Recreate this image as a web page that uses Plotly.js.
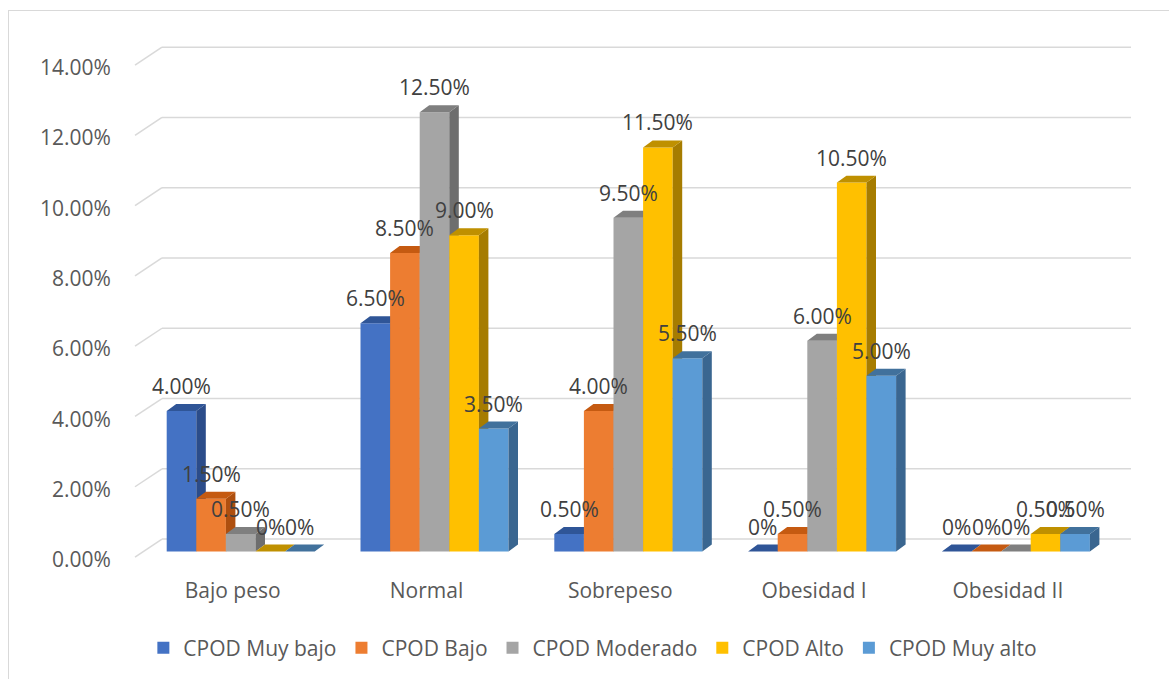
<!DOCTYPE html>
<html lang="es">
<head>
<meta charset="utf-8">
<script src="https://cdn.plot.ly/plotly-3.0.1.min.js"></script>
<style>
  html, body { margin: 0; padding: 0; background: #ffffff; }
  #wrap { position: relative; width: 1169px; height: 679px; overflow: hidden; }
  #chart { position: absolute; left: 0; top: 0; width: 1169px; height: 679px; }
  #frame { position: absolute; left: 8px; top: 10px; width: 1200px; height: 700px;
           border-left: 1px solid #d9d9d9; border-top: 1px solid #d9d9d9; pointer-events: none; }
</style>
</head>
<body>
<div id="wrap">
  <div id="chart"></div>
  <div id="frame"></div>
</div>
<script>
// Categorías (IMC) y series (CPOD)
const categories = ['Bajo peso', 'Normal', 'Sobrepeso', 'Obesidad I', 'Obesidad II'];
const seriesNames = ['CPOD Muy bajo', 'CPOD Bajo', 'CPOD Moderado', 'CPOD Alto', 'CPOD Muy alto'];

// Porcentajes por categoría
const cpodMuyBajo  = [0.040, 0.065, 0.005, 0.000, 0.000];
const cpodBajo     = [0.015, 0.085, 0.040, 0.005, 0.000];
const cpodModerado = [0.005, 0.125, 0.095, 0.060, 0.000];
const cpodAlto     = [0.000, 0.090, 0.115, 0.105, 0.005];
const cpodMuyAlto  = [0.000, 0.035, 0.055, 0.050, 0.005];

const yTickValues = [0, 0.02, 0.04, 0.06, 0.08, 0.10, 0.12, 0.14];

const seriesValues = [cpodMuyBajo, cpodBajo, cpodModerado, cpodAlto, cpodMuyAlto];

// Colores: cara frontal, cara superior, cara lateral
const frontColors = ['#4472C4', '#ED7D31', '#A5A5A5', '#FFC000', '#5B9BD5'];
const topColors   = ['#2F5597', '#C55A11', '#7F7F7F', '#BF9000', '#41719C'];
const sideColors  = ['#2B4C8A', '#AE4F0F', '#6E6E6E', '#A67C00', '#3A6690'];

const FONT = '"Open Sans", "Noto Sans", sans-serif';
const FONT_SIZE = 21;

// Geometría del gráfico (píxeles) -> rangos de ejes
const box = { l: 125, r: 1145, t: 35, b: 570, W: 1169, H: 679 };
const pxX0 = 240.7, pxPerCat = 193.8;      // centro de la categoría 0, ancho de categoría
const pxY0 = 552.5, pxPerUnit = 3520;      // línea base de las barras, px por unidad
const xRange = [(box.l - pxX0) / pxPerCat, (box.r - pxX0) / pxPerCat];
const yRange = [(pxY0 - box.b) / pxPerUnit, (pxY0 - box.t) / pxPerUnit];

// Profundidad 3D en unidades de datos
const BAR_W = 29.6 / pxPerCat;
const BAR_DX = 9.5 / pxPerCat;
const BAR_DY = 7 / pxPerUnit;
const BACK_DY = 12.5 / pxPerUnit;
const FRONT_DY = -5.5 / pxPerUnit;
const WALL_FRONT_X = (135 - pxX0) / pxPerCat;
const WALL_BACK_X = (162 - pxX0) / pxPerCat;
const WALL_RIGHT_X = (1131 - pxX0) / pxPerCat;

const xIdx = categories.map((_, i) => i);
const nSeries = seriesValues.length;
const offsetOf = j => (j - nSeries / 2) * BAR_W;

const traces = [];
const annotations = [];

seriesValues.forEach((vals, j) => {
  // caras frontales
  traces.push({
    type: 'bar', name: seriesNames[j], x: xIdx, y: vals,
    width: BAR_W, offset: offsetOf(j),
    marker: { color: frontColors[j], line: { width: 0 } },
    zorder: j, hoverinfo: 'skip'
  });
  // caras superior y lateral
  const tx = [], ty = [], sx = [], sy = [];
  vals.forEach((v, i) => {
    const x0 = i + offsetOf(j), x1 = x0 + BAR_W;
    tx.push(x0, x0 + BAR_DX, x1 + BAR_DX, x1, x0, null);
    ty.push(v, v + BAR_DY, v + BAR_DY, v, v, null);
    sx.push(x1, x1 + BAR_DX, x1 + BAR_DX, x1, x1, null);
    sy.push(0, BAR_DY, v + BAR_DY, v, 0, null);
    annotations.push({
      x: i + offsetOf(j) + BAR_W / 2, y: v, xref: 'x', yref: 'y',
      text: v === 0 ? '0%' : (v * 100).toFixed(2) + '%',
      showarrow: false, xanchor: 'center', yanchor: 'middle', yshift: 25,
      font: { family: FONT, size: FONT_SIZE, color: '#404040' }
    });
  });
  traces.push({
    type: 'scatter', mode: 'none', x: sx, y: sy, fill: 'toself',
    fillcolor: sideColors[j], showlegend: false, hoverinfo: 'skip', zorder: j
  });
  traces.push({
    type: 'scatter', mode: 'none', x: tx, y: ty, fill: 'toself',
    fillcolor: topColors[j], showlegend: false, hoverinfo: 'skip', zorder: j
  });
});

// Etiquetas del eje vertical, alineadas con el borde frontal de la pared izquierda
const tickFont = { family: FONT, size: FONT_SIZE, color: '#595959' };
yTickValues.forEach(v => {
  annotations.push({
    x: (113 - box.l) / (box.r - box.l), xref: 'paper', y: v, yref: 'y',
    text: (v * 100).toFixed(2) + '%', showarrow: false,
    xanchor: 'right', yanchor: 'middle', yshift: -7.5, font: tickFont
  });
});

// Líneas de cuadrícula: pared del fondo y pared lateral izquierda
const gridLine = { color: '#d9d9d9', width: 1.5 };
const shapes = [];
yTickValues.forEach(v => {
  shapes.push({ type: 'line', xref: 'x', yref: 'y', layer: 'below',
    x0: WALL_BACK_X, x1: WALL_RIGHT_X, y0: v + BACK_DY, y1: v + BACK_DY, line: gridLine });
  shapes.push({ type: 'line', xref: 'x', yref: 'y', layer: 'below',
    x0: WALL_FRONT_X, x1: WALL_BACK_X, y0: v + FRONT_DY, y1: v + BACK_DY, line: gridLine });
});

const layout = {
  width: box.W, height: box.H, autosize: false,
  margin: { l: box.l, r: box.W - box.r, t: box.t, b: box.H - box.b, pad: 0 },
  paper_bgcolor: '#ffffff', plot_bgcolor: 'rgba(0,0,0,0)',
  barmode: 'overlay',
  showlegend: true,
  xaxis: {
    range: xRange, tickvals: xIdx, ticktext: categories,
    showgrid: false, zeroline: false, showline: false, ticks: '',
    ticklabelshift: -8, ticklabelstandoff: 7, tickfont: tickFont, fixedrange: true
  },
  yaxis: {
    range: yRange, tickvals: yTickValues, showticklabels: false,
    showgrid: false, zeroline: false, showline: false, ticks: '', fixedrange: true
  },
  legend: {
    orientation: 'h', x: 0.018, xanchor: 'left', y: (box.b - 648) / (box.b - box.t), yanchor: 'middle',
    font: { family: FONT, size: FONT_SIZE, color: '#595959' }, traceorder: 'normal',
    bgcolor: 'rgba(0,0,0,0)'
  },
  shapes: shapes,
  annotations: annotations
};

Plotly.newPlot('chart', traces, layout, { displayModeBar: false, staticPlot: true });
</script>
</body>
</html>
